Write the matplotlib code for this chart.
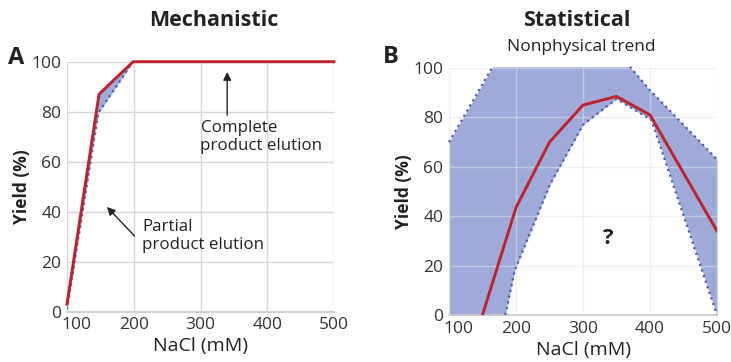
import numpy as np
import matplotlib
matplotlib.use('Agg')
import matplotlib.pyplot as plt
from matplotlib.transforms import ScaledTranslation

plt.rcParams['font.family'] = ['Open Sans', 'DejaVu Sans']

# Panel A - mechanistic model
mech_x = [100, 148, 199, 500]
mech_y = [3, 87, 100, 100]
mech_low_x = [100, 147, 199]
mech_low_y = [1, 79.5, 100]

# Panel B - statistical model
stat_x = [150, 200, 250, 300, 350, 400, 500]
stat_y = [0, 43.5, 70, 85, 88.5, 81, 34]
upper_x = [100, 165, 370, 400, 500]
upper_y = [70, 100.5, 100.5, 91, 63]
lower_x = [100, 184, 198, 251, 300, 350, 402, 500]
lower_y = [0, 0, 18, 53, 77, 87.5, 79, 0]

xticks = [100, 200, 300, 400, 500]
yticks = [0, 20, 40, 60, 80, 100]

red = '#c0222b'
fill_col = '#9eabd9'
dot_col = '#4a5db3'
text_col = '#222222'

fig = plt.figure(figsize=(7.31, 3.62), dpi=100)
axA = fig.add_axes([67/731, 1-311.7/362, (334-67)/731, 250/362])
axB = fig.add_axes([449/731, 1-315/362, (717-449)/731, 247/362])

def style(ax, gridcol, gridalpha):
    ax.set_xlim(100, 500)
    ax.set_ylim(0, 100)
    ax.set_xticks(xticks)
    ax.set_yticks(yticks)
    for s in ['top', 'right', 'left']:
        ax.spines[s].set_visible(False)
    ax.spines['bottom'].set_color('#c8c8c8')
    ax.spines['bottom'].set_linewidth(1.2)
    ax.tick_params(length=0, labelsize=12.5, labelcolor='#333333', pad=4)
    ax.grid(True, color=gridcol, alpha=gridalpha, linewidth=1, zorder=3)
    ax.set_axisbelow(False)
    ax.set_xlabel('NaCl (mM)', fontsize=14, color=text_col, labelpad=3)
    ax.set_ylabel('Yield (%)', fontsize=12.5, fontweight='bold', color=text_col, labelpad=0)
    # first x label sits a bit right of the axis start
    lab = ax.xaxis.get_major_ticks()[0].label1
    lab.set_transform(lab.get_transform() + ScaledTranslation(9/100, 0, fig.dpi_scale_trans))

# A
xa = np.linspace(100, 199, 60)
axA.fill_between(xa, np.interp(xa, mech_low_x, mech_low_y), np.interp(xa, mech_x, mech_y),
                 color=fill_col, lw=0, zorder=1)
axA.plot(mech_low_x, mech_low_y, ':', color=dot_col, lw=1.6, zorder=4)
axA.plot(mech_x, mech_y, color=red, lw=2.1, zorder=5, clip_on=False)
style(axA, '#d6d6d6', 1)
axA.annotate('', xy=(340, 97), xytext=(340, 77.5),
             arrowprops=dict(arrowstyle='-|>', color='#222222', lw=1, mutation_scale=12))
axA.text(300, 76.5, 'Complete\nproduct elution', fontsize=12.2, color=text_col,
         va='top', ha='left', linespacing=1.15)
axA.annotate('', xy=(157, 42.7), xytext=(204, 29.5),
             arrowprops=dict(arrowstyle='-|>', color='#222222', lw=1, mutation_scale=12))
axA.text(213, 37, 'Partial\nproduct elution', fontsize=12.2, color=text_col,
         va='top', ha='left', linespacing=1.15)

# B
xs = np.linspace(100, 500, 401)
axB.fill_between(xs, np.interp(xs, lower_x, lower_y), np.interp(xs, upper_x, upper_y),
                 color=fill_col, lw=0, zorder=1, clip_on=False)
axB.plot(upper_x[:2], upper_y[:2], ':', color=dot_col, lw=1.6, zorder=4, clip_on=False)
axB.plot(upper_x[2:], upper_y[2:], ':', color=dot_col, lw=1.6, zorder=4, clip_on=False)
axB.plot(lower_x[1:], lower_y[1:], ':', color=dot_col, lw=1.6, zorder=4)
axB.plot(stat_x, stat_y, color=red, lw=2.1, zorder=5)
style(axB, '#e4e4e4', 0.5)
axB.text(337, 31, '?', fontsize=16, fontweight='bold', color=text_col, ha='center', va='center')

fig.text(214/731, 1-20/362, 'Mechanistic', fontsize=15.5, fontweight='bold', color=text_col,
         ha='center', va='center')
fig.text(577/731, 1-20/362, 'Statistical', fontsize=15.5, fontweight='bold', color=text_col,
         ha='center', va='center')
fig.text(581/731, 1-47/362, 'Nonphysical trend', fontsize=12.5, color=text_col,
         ha='center', va='center')
fig.text(16/731, 1-58/362, 'A', fontsize=17, fontweight='bold', color=text_col,
         ha='center', va='center')
fig.text(391/731, 1-57/362, 'B', fontsize=17, fontweight='bold', color=text_col,
         ha='center', va='center')

fig.savefig('out.png', dpi=100)
